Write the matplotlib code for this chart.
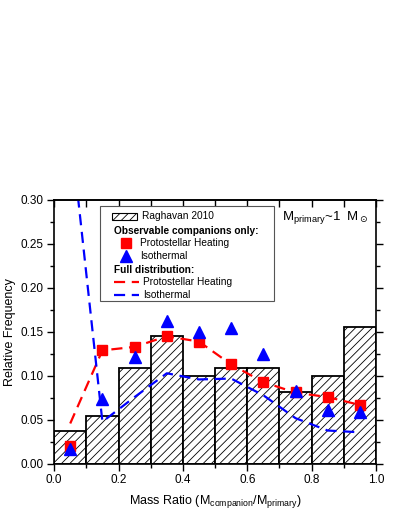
import numpy as np
import matplotlib.pyplot as plt
from matplotlib.patches import Rectangle
from matplotlib.lines import Line2D
from matplotlib.ticker import MultipleLocator

plt.rcParams['font.family'] = ['Liberation Sans', 'DejaVu Sans']
plt.rcParams['hatch.linewidth'] = 0.6

# data
bin_left = np.arange(0.0, 1.0, 0.1)
raghavan = [0.037, 0.055, 0.109, 0.145, 0.100, 0.109, 0.109, 0.082, 0.100, 0.155]

q = np.arange(0.05, 1.0, 0.1)
obs_heat = [0.020, 0.129, 0.133, 0.145, 0.139, 0.113, 0.093, 0.082, 0.076, 0.067]
obs_iso = [0.017, 0.074, 0.122, 0.162, 0.150, 0.154, 0.125, 0.083, 0.061, 0.059]
full_heat = [0.046, 0.129, 0.133, 0.145, 0.139, 0.113, 0.093, 0.081, 0.076, 0.067]
full_iso = [0.384, 0.048, 0.076, 0.103, 0.096, 0.097, 0.078, 0.052, 0.038, 0.036]

fig = plt.figure(figsize=(3.95, 5.11), dpi=100)
ax = fig.add_axes([0.137, 0.092, 0.815, 0.517])

ax.bar(bin_left, raghavan, width=0.1, align='edge', facecolor='white',
       edgecolor='black', linewidth=1.3, hatch='////', zorder=1)

ax.plot(q, full_heat, color='red', ls=(0, (5, 3)), lw=1.6, zorder=2)
ax.plot(q, full_iso, color='blue', ls=(0, (5, 3)), lw=1.6, zorder=2)
ax.plot(q, obs_heat, 's', color='red', ms=7, zorder=3)
ax.plot(q, obs_iso, '^', color='blue', ms=8, zorder=4)

ax.set_xlim(0, 1)
ax.set_ylim(0, 0.30)
ax.xaxis.set_major_locator(MultipleLocator(0.2))
ax.xaxis.set_minor_locator(MultipleLocator(0.1))
ax.yaxis.set_major_locator(MultipleLocator(0.05))
ax.yaxis.set_minor_locator(MultipleLocator(0.025))
ax.xaxis.set_major_formatter(plt.FormatStrFormatter('%.1f'))
ax.yaxis.set_major_formatter(plt.FormatStrFormatter('%.2f'))
ax.tick_params(which='both', direction='out', right=True, labelsize=8.5, width=1, pad=2.5)
ax.tick_params(which='major', length=5)
ax.tick_params(which='minor', length=3)

# top axis: ticks pointing inward, no labels
top = ax.secondary_xaxis('top')
top.xaxis.set_major_locator(MultipleLocator(0.1))
top.tick_params(direction='in', length=5, width=1, labeltop=False)
top.spines['top'].set_linewidth(1.2)
for s in ax.spines.values():
    s.set_linewidth(1.2)

ax.set_xlabel(r'Mass Ratio (M$_\mathregular{companion}$/M$_\mathregular{primary}$)',
              fontsize=9, labelpad=5)
ax.set_ylabel('Relative Frequency', fontsize=9, labelpad=3)

# hand-made legend
tr = ax.transAxes
ax.add_patch(Rectangle((0.143, 0.617), 0.540, 0.360, transform=tr, facecolor='white',
                       edgecolor='#555555', lw=0.8, zorder=5))
ax.add_patch(Rectangle((0.180, 0.924), 0.078, 0.026, transform=tr, facecolor='white',
                       edgecolor='black', lw=0.8, hatch='////', zorder=6))
fs = 7.3
ax.text(0.272, 0.937, 'Raghavan 2010', transform=tr, fontsize=fs, va='center', zorder=6)
ax.text(0.186, 0.883, 'Observable companions only:', transform=tr, fontsize=fs,
        fontweight='bold', va='center', zorder=6)
ax.add_line(Line2D([0.223], [0.838], marker='s', color='red', ms=7, transform=tr, zorder=6))
ax.text(0.267, 0.838, 'Protostellar Heating', transform=tr, fontsize=fs, va='center', zorder=6)
ax.add_line(Line2D([0.223], [0.789], marker='^', color='blue', ms=8, transform=tr, zorder=6))
ax.text(0.267, 0.789, 'Isothermal', transform=tr, fontsize=fs, va='center', zorder=6)
ax.text(0.186, 0.735, 'Full distribution:', transform=tr, fontsize=fs,
        fontweight='bold', va='center', zorder=6)
ax.add_line(Line2D([0.186, 0.265], [0.689, 0.689], color='red', ls=(0, (5, 3)), lw=1.6,
                   transform=tr, zorder=6))
ax.text(0.277, 0.689, 'Protostellar Heating', transform=tr, fontsize=fs, va='center', zorder=6)
ax.add_line(Line2D([0.186, 0.265], [0.639, 0.639], color='blue', ls=(0, (5, 3)), lw=1.6,
                   transform=tr, zorder=6))
ax.text(0.277, 0.639, 'Isothermal', transform=tr, fontsize=fs, va='center', zorder=6)

ax.text(0.708, 0.932, r'M$_\mathregular{primary}$~1  M$_\odot$', transform=tr,
        fontsize=9.5, va='center')

fig.savefig('out.png', dpi=100)
